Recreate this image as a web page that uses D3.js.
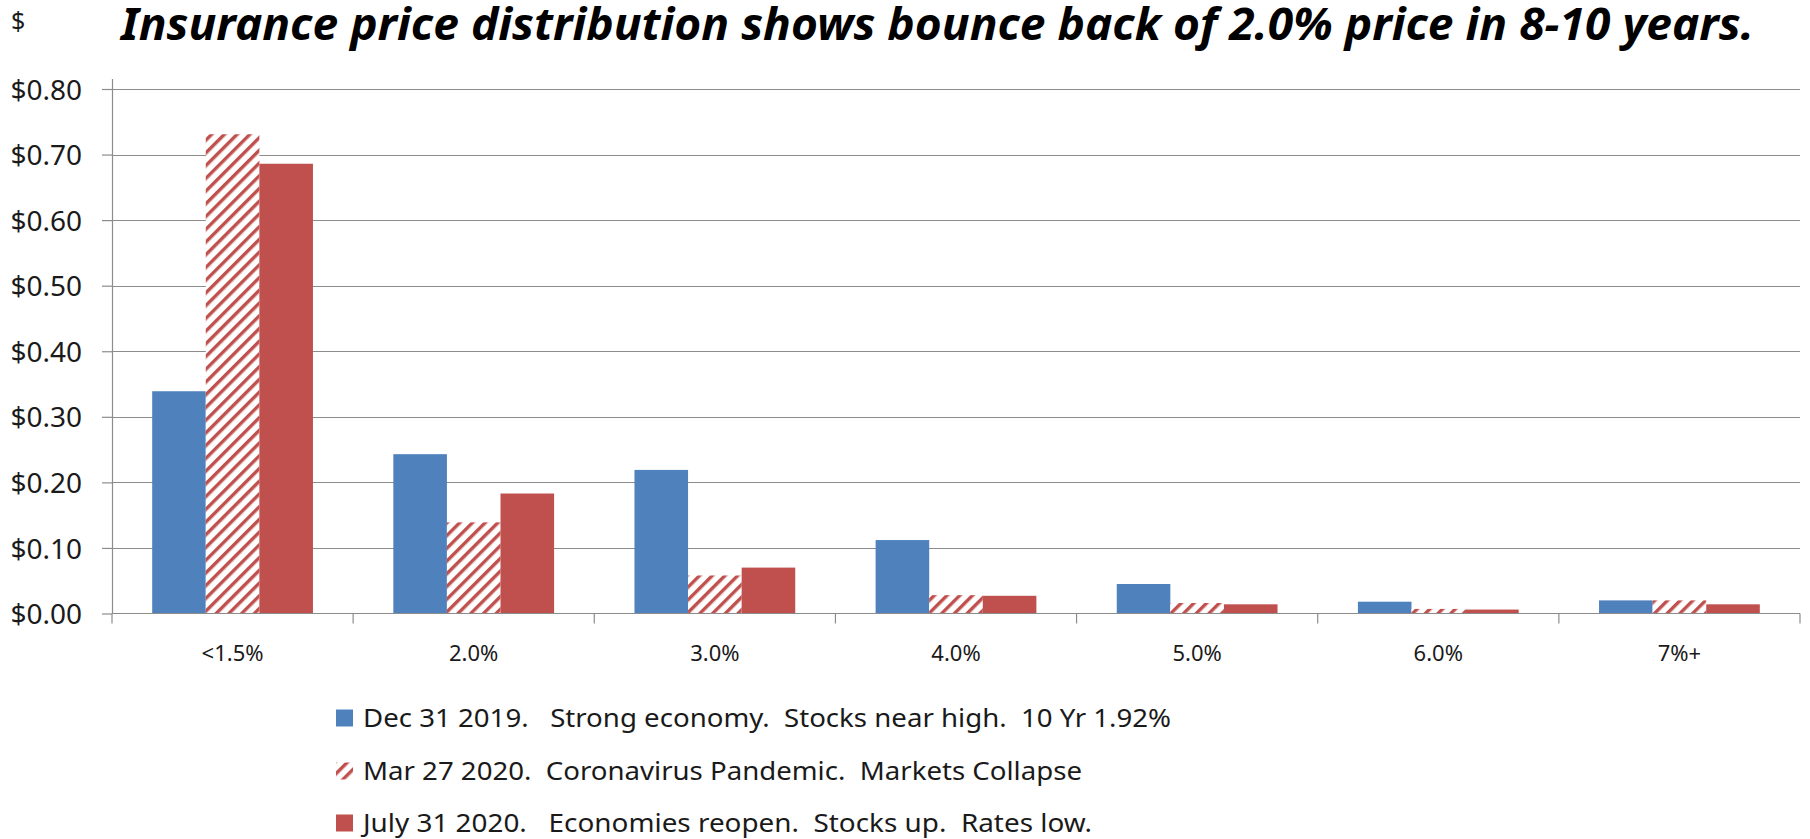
<!DOCTYPE html>
<html>
<head>
<meta charset="utf-8">
<script src="https://cdn.jsdelivr.net/npm/d3@7/dist/d3.min.js"></script>
<style>
  html, body { margin: 0; padding: 0; background: #ffffff; }
  svg { display: block; font-family: "Noto Sans", "Open Sans", sans-serif; }
  text { white-space: pre; }
</style>
</head>
<body>
<svg id="chart" width="1810" height="839"></svg>
<script>
// Rate buckets and the price of insurance at each, for three dates
const categories = ["<1.5%", "2.0%", "3.0%", "4.0%", "5.0%", "6.0%", "7%+"];
const dec2019 = [0.339, 0.243, 0.219, 0.112, 0.045, 0.018, 0.020];
const mar2020 = [0.731, 0.139, 0.058, 0.028, 0.016, 0.007, 0.020];
const jul2020 = [0.686, 0.183, 0.070, 0.027, 0.014, 0.006, 0.014];
const seriesNames = [
  "Dec 31 2019.   Strong economy.  Stocks near high.  10 Yr 1.92%",
  "Mar 27 2020.  Coronavirus Pandemic.  Markets Collapse",
  "July 31 2020.   Economies reopen.  Stocks up.  Rates low."
];
const yTicks = [0, 0.1, 0.2, 0.3, 0.4, 0.5, 0.6, 0.7, 0.8];
const titleText = "Insurance price distribution shows bounce back of 2.0% price in 8-10 years.";

const series = [
  { name: seriesNames[0], values: dec2019, fill: "#4F81BD" },
  { name: seriesNames[1], values: mar2020, fill: "url(#hatch)" },
  { name: seriesNames[2], values: jul2020, fill: "#C0504D" }
];

const svg = d3.select("#chart");
const margin = { left: 112, right: 1800, top: 89, bottom: 613.5 };

// Diagonal red hatching for the March series
const defs = svg.append("defs");
const pat = defs.append("pattern")
  .attr("id", "hatch")
  .attr("patternUnits", "userSpaceOnUse")
  .attr("width", 9).attr("height", 9)
  .attr("patternTransform", "rotate(45)");
pat.append("rect").attr("width", 9).attr("height", 9).attr("fill", "#ffffff");
pat.append("rect").attr("x", 0).attr("y", 0).attr("width", 3.4).attr("height", 9).attr("fill", "#C0504D");

const x = d3.scaleBand().domain(categories).range([margin.left, margin.right]).paddingInner(0).paddingOuter(0);
const y = d3.scaleLinear().domain([0, 0.8]).range([margin.bottom, margin.top]);

const groupInner = d3.scaleBand().domain(d3.range(series.length))
  .range([0, x.bandwidth()]).paddingInner(0).paddingOuter(0.75);

// Gridlines
svg.append("g").selectAll("line").data(yTicks.filter(d => d > 0)).join("line")
  .attr("x1", margin.left).attr("x2", margin.right)
  .attr("y1", d => Math.round(y(d)) + 0.5).attr("y2", d => Math.round(y(d)) + 0.5)
  .attr("stroke", "#8c8c8c").attr("stroke-width", 1.2);

// Bars
series.forEach((s, i) => {
  svg.append("g").selectAll("rect").data(s.values).join("rect")
    .attr("x", (d, j) => x(categories[j]) + groupInner(i))
    .attr("width", groupInner.bandwidth())
    .attr("y", d => y(d))
    .attr("height", d => y(0) - y(d))
    .attr("fill", s.fill);
});

// Y axis
const yAxis = d3.axisLeft(y).tickValues(yTicks).tickSize(10).tickPadding(20)
  .tickFormat(d => "$" + d3.format(".2f")(d));
const gy = svg.append("g").attr("transform", `translate(${margin.left},0)`).call(yAxis);
gy.select(".domain").attr("stroke", "#8c8c8c").attr("stroke-width", 1.2)
  .attr("d", `M0.5,${margin.top - 10}V${margin.bottom}`);
gy.selectAll(".tick line").attr("stroke", "#8c8c8c").attr("stroke-width", 1.2);
gy.selectAll(".tick text").attr("font-size", 28).attr("fill", "#1a1a1a")
  .attr("font-family", "Noto Sans").attr("dy", "0.36em");

// X axis with tick marks on category boundaries
const gx = svg.append("g").attr("transform", `translate(0,${margin.bottom})`);
gx.append("line").attr("x1", margin.left).attr("x2", margin.right)
  .attr("y1", 0).attr("y2", 0).attr("stroke", "#8c8c8c").attr("stroke-width", 1.2);
const bounds = categories.map(c => x(c)).concat([margin.right]);
gx.selectAll("line.b").data(bounds).join("line").attr("class", "b")
  .attr("x1", d => d).attr("x2", d => d).attr("y1", 0).attr("y2", 10)
  .attr("stroke", "#8c8c8c").attr("stroke-width", 1.2);
gx.selectAll("text").data(categories).join("text")
  .attr("x", d => x(d) + x.bandwidth() / 2).attr("y", 47)
  .attr("text-anchor", "middle").attr("font-size", 22).attr("fill", "#1a1a1a")
  .text(d => d);

// Unit label
svg.append("text").attr("x", 11).attr("y", 30).attr("font-size", 25).attr("fill", "#1a1a1a").text("$");

// Title
svg.append("text").attr("x", 121).attr("y", 40)
  .attr("font-size", 45).attr("font-weight", "bold").attr("font-style", "italic")
  .attr("fill", "#000000")
  .attr("textLength", 1633).attr("lengthAdjust", "spacingAndGlyphs")
  .text(titleText);

// Legend
const legendRowY = [718, 771, 823];
const legendWidths = [808, 719, 729];
const lg = svg.append("g");
series.forEach((s, i) => {
  const cy = legendRowY[i];
  lg.append("rect").attr("x", 336).attr("y", cy - 8.5).attr("width", 17).attr("height", 17)
    .attr("fill", s.fill);
  lg.append("text").attr("x", 363).attr("y", cy + 9)
    .attr("font-size", 25.5).attr("fill", "#1a1a1a")
    .attr("textLength", legendWidths[i]).attr("lengthAdjust", "spacingAndGlyphs")
    .text(s.name);
});
</script>
</body>
</html>
